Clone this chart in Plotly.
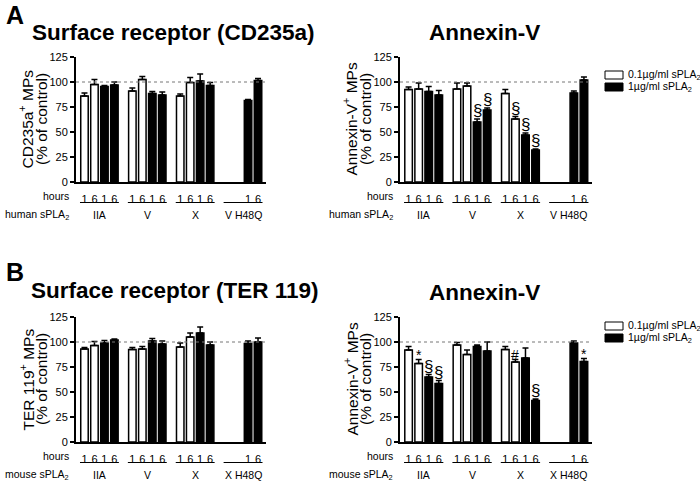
import plotly.graph_objects as go

W, H = 700, 484

# ---- data ----
hours = ["1", "6"]
groups_human = ["IIA", "V", "X", "V H48Q"]
groups_mouse = ["IIA", "V", "X", "X H48Q"]
dose_names = ["0.1µg/ml sPLA<sub>2</sub>", "1µg/ml sPLA<sub>2</sub>"]

# low dose: IIA 1h, IIA 6h, V 1h, V 6h, X 1h, X 6h
# high dose: same + H48Q 1h, H48Q 6h
cd235a_low = [86, 97.5, 91, 102.5, 86, 99.5]
cd235a_low_err = [3, 5, 3, 3, 2, 5]
cd235a_high = [95.5, 97, 88.5, 87, 101, 96.5, 81.5, 101.5]
cd235a_high_err = [1, 3, 2, 3, 7, 3, 1, 2]

annexA_low = [92.5, 93, 93, 96, 88.5, 63]
annexA_low_err = [2.5, 6, 6, 3, 4, 2.5]
annexA_high = [90.5, 87, 60, 72, 47, 32, 89, 102]
annexA_high_err = [5, 4.5, 3, 2, 2, 1, 2, 3]

ter119_low = [93, 96.5, 92.5, 93, 95, 105]
ter119_low_err = [1.5, 4, 2, 2.5, 4, 4]
ter119_high = [99, 102, 101, 98, 109, 97, 98.5, 100]
ter119_high_err = [2.5, 1, 2.5, 3, 6, 3, 2.5, 4]

annexB_low = [92, 78.5, 97, 87.5, 92.5, 80]
annexB_low_err = [3.5, 4, 2.5, 4.5, 3, 2.5]
annexB_high = [65, 58.5, 95.5, 91, 84, 41.5, 99, 80.5]
annexB_high_err = [2.5, 3, 1.5, 9, 10, 1.5, 2, 3]

# significance marks: (series, index, symbol)
annexA_marks = [("high", 2, "§"), ("high", 3, "§"), ("low", 5, "§"),
                ("high", 4, "§"), ("high", 5, "§")]
annexB_marks = [("low", 1, "*"), ("high", 0, "§"), ("high", 1, "§"),
                ("low", 5, "#"), ("high", 5, "§"), ("high", 7, "*")]

FONT = "Liberation Sans, Arial, sans-serif"
GROUP_STEP = 4.8


def px_x(p):
    return p / W


def px_y(p):
    return 1 - p / H


def low_pos():
    return [g * GROUP_STEP + h for g in range(3) for h in range(2)]


def high_pos():
    return [g * GROUP_STEP + 2 + h for g in range(4) for h in range(2)]


def text(t, x, y, size, xanchor="center", yanchor="middle", **kw):
    d = dict(text=t, xref="paper", yref="paper", x=px_x(x), y=px_y(y), xanchor=xanchor,
             yanchor=yanchor, showarrow=False, font=dict(size=size))
    d.update(kw)
    return d


panels = [
    dict(n=1, ax=76, ax1=266, top=57, bot=182, low=cd235a_low, low_err=cd235a_low_err,
         high=cd235a_high, high_err=cd235a_high_err, marks=[],
         ylab=["CD235a<sup>+</sup> MPs", "(% of control)"], groups=groups_human,
         species="human sPLA<sub>2</sub>"),
    dict(n=2, ax=400, ax1=592, top=57, bot=182, low=annexA_low, low_err=annexA_low_err,
         high=annexA_high, high_err=annexA_high_err, marks=annexA_marks,
         ylab=["Annexin-V<sup>+</sup> MPs", "(% of control)"], groups=groups_human,
         species="human sPLA<sub>2</sub>"),
    dict(n=3, ax=76, ax1=266, top=317, bot=442, low=ter119_low, low_err=ter119_low_err,
         high=ter119_high, high_err=ter119_high_err, marks=[],
         ylab=["TER 119<sup>+</sup> MPs", "(% of control)"], groups=groups_mouse,
         species="mouse sPLA<sub>2</sub>"),
    dict(n=4, ax=400, ax1=592, top=317, bot=442, low=annexB_low, low_err=annexB_low_err,
         high=annexB_high, high_err=annexB_high_err, marks=annexB_marks,
         ylab=["Annexin-V<sup>+</sup> MPs", "(% of control)"], groups=groups_mouse,
         species="mouse sPLA<sub>2</sub>"),
]

fig = go.Figure()
shapes = []
annotations = []
layout_axes = {}

for p in panels:
    n = p["n"]
    xa = "x" if n == 1 else f"x{n}"
    ya = "y" if n == 1 else f"y{n}"
    lp, hp = low_pos(), high_pos()

    fig.add_trace(go.Bar(
        x=lp, y=p["low"], width=0.75, xaxis=xa, yaxis=ya, showlegend=False,
        marker=dict(color="white", line=dict(color="black", width=1.5)),
        error_y=dict(type="data", symmetric=False, array=p["low_err"],
                     arrayminus=[0] * len(lp), color="black", thickness=1.5, width=3)))
    fig.add_trace(go.Bar(
        x=hp, y=p["high"], width=0.75, xaxis=xa, yaxis=ya, showlegend=False,
        marker=dict(color="black", line=dict(color="black", width=1.5)),
        error_y=dict(type="data", symmetric=False, array=p["high_err"],
                     arrayminus=[0] * len(hp), color="black", thickness=1.5, width=3)))

    tickvals = lp + hp
    ticktext = hours * 3 + hours * 4

    layout_axes["xaxis" if n == 1 else f"xaxis{n}"] = dict(
        domain=[px_x(p["ax"]), px_x(p["ax1"])], anchor=ya, range=[-0.85, 18.2],
        tickvals=tickvals, ticktext=ticktext, ticks="outside", ticklen=6,
        tickcolor="rgba(0,0,0,0)", showline=True, linecolor="black", linewidth=2,
        showgrid=False, zeroline=False, automargin=False,
        tickfont=dict(size=11, color="black"))
    layout_axes["yaxis" if n == 1 else f"yaxis{n}"] = dict(
        domain=[px_y(p["bot"]), px_y(p["top"])], anchor=xa, range=[0, 125],
        tickvals=[0, 25, 50, 75, 100, 125], ticks="outside", ticklen=4, tickwidth=1.5,
        tickcolor="black", showline=True, linecolor="black", linewidth=2,
        showgrid=False, zeroline=False, automargin=False,
        tickfont=dict(size=11, color="black"))

    # dotted control line
    shapes.append(dict(type="line", xref=f"{xa} domain", x0=0, x1=1, yref=ya, y0=100, y1=100,
                       line=dict(color="#777", width=1, dash="dot")))

    hours_y = p["bot"] + 14
    group_y = p["bot"] + 33
    for g, name in enumerate(p["groups"]):
        x0 = g * GROUP_STEP - 0.45
        shapes.append(dict(type="line", xref=xa, x0=x0, x1=x0 + 3.9, yref="paper",
                           y0=px_y(hours_y + 6.5), y1=px_y(hours_y + 6.5),
                           line=dict(color="black", width=1.2)))
        annotations.append(dict(text=name, xref=xa, x=g * GROUP_STEP + 1.5, xanchor="center",
                                yref="paper", y=px_y(group_y), yanchor="middle",
                                showarrow=False, font=dict(size=10.5)))
    annotations.append(text("hours", p["ax"] - 5, hours_y, 10.5, xanchor="right"))
    annotations.append(text(p["species"], p["ax"] - 5, group_y, 10.5, xanchor="right"))

    # y axis title, two lines
    mid = (p["top"] + p["bot"]) / 2
    for k, line in enumerate(p["ylab"]):
        annotations.append(text(line, p["ax"] - 49 + 14.5 * k, mid, 15.5, textangle=-90))

    # significance marks
    for series, i, sym in p["marks"]:
        xs = lp if series == "low" else hp
        ys = p["low"] if series == "low" else p["high"]
        es = p["low_err"] if series == "low" else p["high_err"]
        big = sym == "§"
        annotations.append(dict(text=sym, xref=xa, yref=ya, x=xs[i], y=ys[i] + es[i],
                                xanchor="center", yanchor="bottom", yshift=-3 if big else -5,
                                showarrow=False, font=dict(size=17 if big else 14)))

# panel titles
titles = [("A", 4, 15, "left", 25), ("B", 4, 272, "left", 25),
          ("Surface receptor (CD235a)", 173, 32, "center", 22.5),
          ("Annexin-V", 484, 33, "center", 22.5),
          ("Surface receptor (TER 119)", 175, 290, "center", 22.5),
          ("Annexin-V", 484, 292, "center", 22.5)]
for t, x, y, anchor, size in titles:
    annotations.append(text(f"<b>{t}</b>", x, y, size, xanchor=anchor))

# legends beside the Annexin-V panels
for top in (75, 326):
    for k, (name, fill) in enumerate(zip(dose_names, ["white", "black"])):
        cy = top + 12 * k
        shapes.append(dict(type="rect", xref="paper", yref="paper", x0=px_x(605), x1=px_x(623),
                           y0=px_y(cy + 4), y1=px_y(cy - 4), fillcolor=fill,
                           line=dict(color="black", width=1)))
        annotations.append(text(name, 626, cy, 10.5, xanchor="left"))

fig.update_layout(
    width=W, height=H, margin=dict(l=0, r=0, t=0, b=0),
    plot_bgcolor="white", paper_bgcolor="white", barmode="overlay",
    font=dict(family=FONT, color="black"),
    shapes=shapes, annotations=annotations, **layout_axes)

# drop the page's default 8px body margin so the figure sits at the window corner
fig.write_html("out.html", config={"displayModeBar": False},
               post_script="document.body.style.margin = '0';")
